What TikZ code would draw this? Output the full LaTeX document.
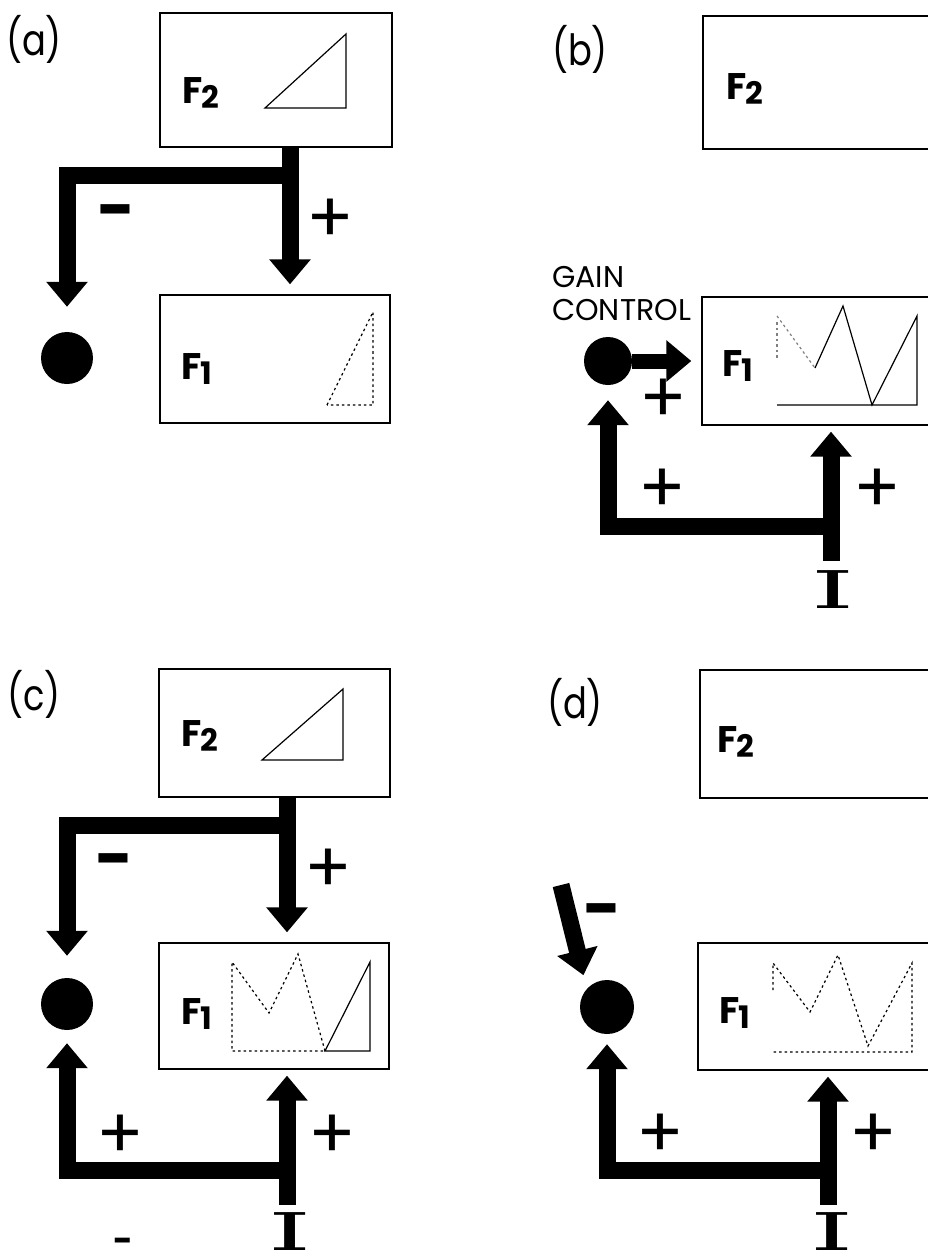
\documentclass[tikz,border=0pt]{standalone}
\usepackage{fontspec}
\setsansfont{Poppins}
\newfontfamily\Ifont{DejaVu Serif}
\usetikzlibrary{arrows.meta}
\newcommand{\Fs}[1]{F\kern-1pt\raisebox{-5pt}{\fontsize{31}{31}\selectfont #1}}
\newcommand{\tagof}[1]{\scalebox{0.82}[1]{(#1)}}
\tikzset{
  fbox/.style={draw, line width=1.3pt, inner sep=0pt},
  fat/.style={line width=17pt, line join=miter, -{Triangle[width=40pt,length=25pt]}},
  dotline/.style={line width=1.2pt, dash pattern=on 2.5pt off 3pt},
  sketch/.style={line width=1.2pt},
  blob/.style={circle, fill, inner sep=0pt, minimum size=52pt},
  tagtext/.style={font=\sffamily\fontsize{43}{43}\selectfont, inner sep=0pt},
  flabel/.style={font=\sffamily\bfseries\fontsize{37}{37}\selectfont, inner sep=0pt},
  signtext/.style={font=\sffamily\fontsize{70}{70}\selectfont, inner sep=0pt},
  minustext/.style={font=\sffamily\bfseries\fontsize{66}{66}\selectfont, inner sep=0pt},
  gain/.style={font=\sffamily\fontsize{30}{33}\selectfont, inner sep=0pt, align=left, anchor=west},
  inlet/.style={font=\Ifont\fontsize{52}{52}\selectfont, inner sep=0pt},
}
\begin{document}
\begin{tikzpicture}[x=1pt, y=-1pt]
  \useasboundingbox (0,0) rectangle (927,1258);
  \fill[white] (0,0) rectangle (927,1258);

  % panel (a)
  \node[tagtext] (ta) at (34,39) {\tagof{a}};
  \node[fbox, minimum width=232pt, minimum height=134pt] (F2a) at (276,80) {};
  \node[fbox, minimum width=230pt, minimum height=128pt] (F1a) at (275,359) {};
  \node[flabel] (la2) at (201,93) {\Fs{2}};
  \node[flabel] (la1) at (197,369) {\Fs{1}};
  \draw[sketch] (265,108) -- (346,34) -- (346,108) -- cycle;
  \draw[dotline] (327,405) -- (373,312) -- (373,405) -- cycle;
  \node[blob] (Ca) at (67,358) {};
  \coordinate (ja) at (290,175);
  \draw[fat, shorten >=10pt] (ja |- F2a.south) -- (ja |- F1a.north);
  \draw[fat, shorten >=25pt] (ja) -| (Ca.north);
  \node[minustext] (ma) at (117,219) {-};
  \node[signtext] (pa) at (330,221) {+};

  % panel (b)
  \node[tagtext] (tb) at (580,49) {\tagof{b}};
  \node[fbox, minimum width=260pt, minimum height=133pt] (F2b) at (833,82.5) {};
  \node[fbox, minimum width=260pt, minimum height=128pt] (F1b) at (832,361) {};
  \node[flabel] (lb2) at (745,89) {\Fs{2}};
  \node[flabel] (lb1) at (738,366) {\Fs{1}};
  \node[gain] (gc) at (552,294) {GAIN\\CONTROL};
  \draw[dotline, gray] (777,322) -- (777,360);
  \draw[dotline, gray] (777,316) -- (815,368);
  \draw[sketch] (815,368) -- (843,306) -- (872,405) -- (917,316) -- (917,405) -- (777,405);
  \node[blob, minimum size=48pt] (Cb) at (608,361) {};
  \draw[fat, line width=15pt, shorten >=10pt] (Cb) -- (Cb -| F1b.west);
  \node[signtext] (pb1) at (663,401) {+};
  \node[inlet] (Ib) at (833,590) {\scalebox{2.1}[1]{I}};
  \coordinate (jb) at (831,526);
  \draw[fat, shorten <=10pt, shorten >=6pt] (jb |- Ib.north) -- (jb |- F1b.south);
  \draw[fat, shorten >=15pt] (jb) -| (Cb.south);
  \node[signtext] (pb2) at (662,491) {+};
  \node[signtext] (pb3) at (877,491) {+};

  % panel (c)
  \node[tagtext] (tc) at (34,694) {\tagof{c}};
  \node[fbox, minimum width=231pt, minimum height=128pt] (F2c) at (274.5,733) {};
  \node[fbox, minimum width=230pt, minimum height=126pt] (F1c) at (274,1006) {};
  \node[flabel] (lc2) at (200,736) {\Fs{2}};
  \node[flabel] (lc1) at (197,1014) {\Fs{1}};
  \draw[sketch] (262,760) -- (343,689) -- (343,760) -- cycle;
  \draw[dotline] (325,1051) -- (298,954) -- (269,1013) -- (232,962) -- (232,1051) -- (325,1051);
  \draw[sketch] (325,1051) -- (370,962) -- (370,1051) -- cycle;
  \node[blob] (Cc) at (67,1004) {};
  \coordinate (jc) at (287,825);
  \coordinate (kc) at (287,1170);
  \draw[fat, shorten >=10pt] (jc |- F2c.south) -- (jc |- F1c.north);
  \draw[fat, shorten >=22pt] (jc) -| (Cc.north);
  \node[inlet] (Ic) at (290,1232) {\scalebox{2.1}[1]{I}};
  \draw[fat, shorten <=8pt, shorten >=6pt] (kc |- Ic.north) -- (kc |- F1c.south);
  \draw[fat, shorten >=13pt] (kc) -| (Cc.south);
  \node[minustext] (mc1) at (115,868) {-};
  \node[signtext] (pc1) at (328,871) {+};
  \node[signtext] (pc2) at (120,1137) {+};
  \node[signtext] (pc3) at (332,1137) {+};
  \node[minustext, font=\sffamily\bfseries\fontsize{34}{34}\selectfont] (mc2) at (123,1245) {-};

  % panel (d)
  \node[tagtext] (td) at (575,702) {\tagof{d}};
  \node[fbox, minimum width=260pt, minimum height=128pt] (F2d) at (830,734) {};
  \node[fbox, minimum width=262pt, minimum height=127pt] (F1d) at (829,1006.5) {};
  \node[flabel] (ld2) at (736,742) {\Fs{2}};
  \node[flabel] (ld1) at (735,1013) {\Fs{1}};
  \draw[dotline] (773,990) -- (773,963) -- (810,1012) -- (838,955) -- (868,1046) -- (912,963) -- (912,1052) -- (773,1052);
  \node[blob, minimum size=54pt] (Cd) at (607,1007) {};
  \coordinate (md) at (561,885);
  \draw[fat, shorten >=14pt] (md) -- (Cd.138);
  \node[minustext] (md2) at (603,918) {-};
  \coordinate (kd) at (828,1170);
  \node[inlet] (Id) at (832,1232) {\scalebox{2.1}[1]{I}};
  \draw[fat, shorten <=8pt, shorten >=6pt] (kd |- Id.north) -- (kd |- F1d.south);
  \draw[fat, shorten >=10pt] (kd) -| (Cd.south);
  \node[signtext] (pd1) at (660,1136) {+};
  \node[signtext] (pd2) at (873,1136) {+};
\end{tikzpicture}
\end{document}
